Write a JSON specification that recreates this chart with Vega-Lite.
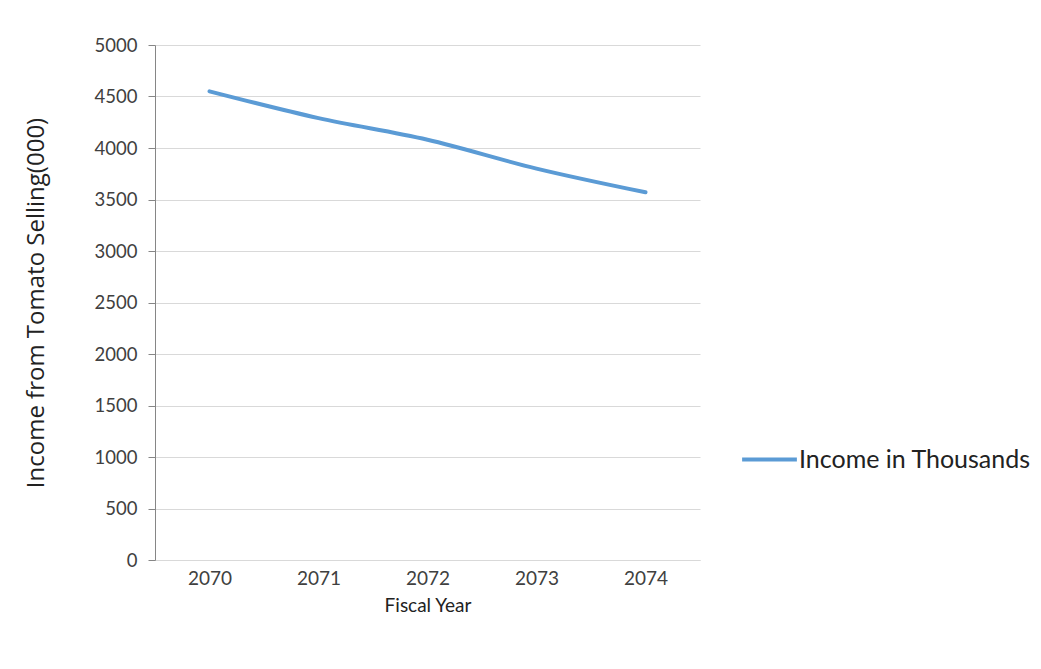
{
  "$schema": "https://vega.github.io/schema/vega-lite/v6.json",
  "width": 545,
  "height": 515,
  "autosize": "none",
  "padding": {"left": 155, "top": 45, "right": 341, "bottom": 109},
  "background": "white",
  "config": {
    "view": {"stroke": null},
    "font": "Lato"
  },
  "data": {
    "values": [
      {"year": "2070", "income": 4550, "series": "Income in Thousands"},
      {"year": "2071", "income": 4290, "series": "Income in Thousands"},
      {"year": "2072", "income": 4080, "series": "Income in Thousands"},
      {"year": "2073", "income": 3800, "series": "Income in Thousands"},
      {"year": "2074", "income": 3570, "series": "Income in Thousands"}
    ]
  },
  "mark": {"type": "line", "strokeWidth": 4, "strokeCap": "round", "interpolate": "monotone"},
  "encoding": {
    "x": {
      "field": "year",
      "type": "ordinal",
      "scale": {"type": "point", "padding": 0.5},
      "axis": {
        "title": "Fiscal Year",
        "labelAngle": 0,
        "labelFont": "Lato",
        "labelFontSize": 19,
        "labelColor": "#404040",
        "labelPadding": 9,
        "ticks": false,
        "domainColor": "#d9d9d9",
        "domainWidth": 1,
        "grid": false,
        "titleFont": "Lato",
        "titleFontSize": 19,
        "titleFontWeight": "normal",
        "titleColor": "#222222",
        "titlePadding": 8
      }
    },
    "y": {
      "field": "income",
      "type": "quantitative",
      "scale": {"domain": [0, 5000], "nice": false},
      "axis": {
        "title": "Income from Tomato Selling(000)",
        "values": [0, 500, 1000, 1500, 2000, 2500, 3000, 3500, 4000, 4500, 5000],
        "format": "d",
        "labelFont": "Lato",
        "labelFontSize": 18.5,
        "labelColor": "#404040",
        "labelPadding": 11,
        "tickSize": 7,
        "tickColor": "#868686",
        "domainColor": "#868686",
        "gridColor": "#d9d9d9",
        "gridWidth": 1,
        "titleFont": "Open Sans",
        "titleFontSize": 24,
        "titleFontWeight": "normal",
        "titleColor": "#222222",
        "titlePadding": 46
      }
    },
    "color": {
      "field": "series",
      "type": "nominal",
      "scale": {"range": ["#5b9bd5"]},
      "legend": {
        "title": null,
        "orient": "none",
        "legendX": 585,
        "legendY": 385,
        "symbolType": "stroke",
        "symbolSize": 3000,
        "symbolStrokeWidth": 4,
        "labelFont": "Lato",
        "labelFontSize": 25,
        "labelColor": "#222222",
        "labelOffset": 0,
        "labelLimit": 0
      }
    }
  }
}
